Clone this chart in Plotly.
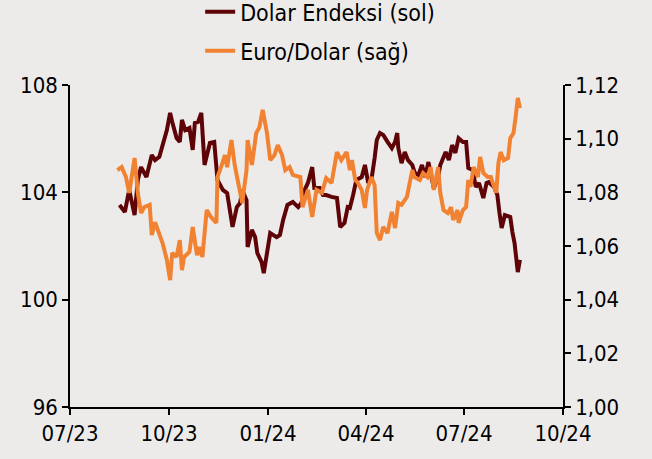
import plotly.graph_objects as go

# Dolar Endeksi (left axis)
dxy_dates = ["2023-08-16","2023-08-21","2023-08-25","2023-08-30","2023-09-02","2023-09-05","2023-09-10","2023-09-15",
    "2023-09-18","2023-09-22","2023-09-29","2023-10-02","2023-10-04","2023-10-08","2023-10-11","2023-10-13",
    "2023-10-16","2023-10-20","2023-10-23","2023-10-25","2023-10-28","2023-10-31","2023-11-03","2023-11-08",
    "2023-11-12","2023-11-15","2023-11-20","2023-11-24","2023-11-29","2023-12-03","2023-12-06","2023-12-08",
    "2023-12-12","2023-12-13","2023-12-17","2023-12-20","2023-12-22","2023-12-26","2023-12-28","2024-01-01",
    "2024-01-03","2024-01-09","2024-01-12","2024-01-15","2024-01-19","2024-01-24","2024-01-29","2024-02-01",
    "2024-02-04","2024-02-07","2024-02-11","2024-02-13","2024-02-18","2024-02-21","2024-02-24","2024-02-29",
    "2024-03-05","2024-03-08","2024-03-12","2024-03-15","2024-03-17","2024-03-20","2024-03-23","2024-03-28",
    "2024-03-31","2024-04-03","2024-04-06","2024-04-09","2024-04-11","2024-04-14","2024-04-17","2024-04-21",
    "2024-04-25","2024-04-28","2024-04-30","2024-05-01","2024-05-04","2024-05-07","2024-05-10","2024-05-14",
    "2024-05-16","2024-05-19","2024-05-23","2024-05-26","2024-05-29","2024-05-31","2024-06-03","2024-06-07",
    "2024-06-09","2024-06-14","2024-06-17","2024-06-20","2024-06-23","2024-06-26","2024-06-30","2024-07-03",
    "2024-07-05","2024-07-09","2024-07-12","2024-07-15","2024-07-19","2024-07-22","2024-07-24","2024-07-29",
    "2024-08-01","2024-08-03","2024-08-05","2024-08-08","2024-08-13","2024-08-15","2024-08-17","2024-08-20",
    "2024-08-22"]
dxy_values = [103.53,103.27,104.09,103.15,104.46,104.94,104.57,105.39,
    105.20,105.32,106.32,106.96,106.62,106.02,105.88,106.70,
    106.32,106.40,105.58,106.58,106.62,106.96,105.02,105.84,
    105.88,104.46,104.09,103.97,102.71,103.45,103.60,104.09,
    103.71,101.96,102.60,102.33,101.74,101.40,100.99,101.85,
    102.48,102.33,102.41,102.97,103.53,103.64,103.45,103.60,
    104.09,104.35,104.94,104.16,104.16,103.90,103.90,103.83,
    103.79,102.71,102.86,103.45,103.42,103.90,104.46,104.57,
    105.02,104.35,104.46,105.28,105.95,106.21,106.14,105.88,
    105.65,105.88,106.21,105.65,105.09,105.50,105.20,105.02,
    104.76,104.57,105.02,104.57,105.13,104.72,104.16,104.57,
    105.02,105.50,105.20,105.76,105.47,106.02,105.88,105.88,
    104.91,104.83,104.20,104.35,103.79,104.35,104.38,104.20,
    103.90,103.23,102.67,103.15,103.08,102.52,102.11,101.03,
    101.48]

# Euro/Dolar (right axis)
eur_dates = ["2023-08-14","2023-08-18","2023-08-22","2023-08-25","2023-08-30","2023-09-02","2023-09-05","2023-09-08",
    "2023-09-13","2023-09-15","2023-09-18","2023-09-20","2023-09-25","2023-09-29","2023-10-02","2023-10-04",
    "2023-10-08","2023-10-11","2023-10-13","2023-10-15","2023-10-20","2023-10-23","2023-10-27","2023-10-29",
    "2023-11-01","2023-11-05","2023-11-09","2023-11-14","2023-11-15","2023-11-19","2023-11-22","2023-11-24",
    "2023-11-28","2023-12-01","2023-12-06","2023-12-08","2023-12-12","2023-12-13","2023-12-17","2023-12-21",
    "2023-12-24","2023-12-27","2023-12-31","2024-01-03","2024-01-07","2024-01-10","2024-01-14","2024-01-17",
    "2024-01-21","2024-01-24","2024-01-31","2024-02-02","2024-02-07","2024-02-11","2024-02-15","2024-02-20",
    "2024-02-24","2024-02-29","2024-03-05","2024-03-09","2024-03-14","2024-03-17","2024-03-19","2024-03-22",
    "2024-03-24","2024-03-28","2024-03-31","2024-04-02","2024-04-06","2024-04-09","2024-04-11","2024-04-14",
    "2024-04-17","2024-04-21","2024-04-25","2024-04-28","2024-05-01","2024-05-04","2024-05-09","2024-05-14",
    "2024-05-16","2024-05-21","2024-05-24","2024-05-28","2024-05-31","2024-06-03","2024-06-07","2024-06-09",
    "2024-06-12","2024-06-16","2024-06-19","2024-06-21","2024-06-25","2024-06-26","2024-06-30","2024-07-03",
    "2024-07-05","2024-07-07","2024-07-10","2024-07-14","2024-07-16","2024-07-19","2024-07-23","2024-07-26",
    "2024-07-29","2024-07-31","2024-08-02","2024-08-04","2024-08-07","2024-08-11","2024-08-13","2024-08-16",
    "2024-08-18","2024-08-20","2024-08-22"]
eur_values = [1.0883,1.0894,1.0857,1.0798,1.0928,1.0798,1.0723,1.0745,
    1.0753,1.0641,1.0689,1.0667,1.0611,1.0548,1.0473,1.0574,
    1.0559,1.0622,1.0510,1.0559,1.0578,1.0671,1.0566,1.0596,
    1.0559,1.0734,1.0708,1.0686,1.0857,1.0902,1.0939,1.0894,
    1.0995,1.0902,1.0809,1.0760,1.0883,1.0995,1.0902,1.1021,
    1.1043,1.1107,1.1021,1.0920,1.0939,1.0976,1.0939,1.0883,
    1.0894,1.0865,1.0857,1.0745,1.0809,1.0708,1.0809,1.0798,
    1.0853,1.0835,1.0950,1.0920,1.0950,1.0883,1.0920,1.0846,
    1.0838,1.0809,1.0742,1.0809,1.0857,1.0827,1.0648,1.0622,
    1.0671,1.0648,1.0727,1.0667,1.0760,1.0753,1.0783,1.0883,
    1.0857,1.0846,1.0872,1.0857,1.0894,1.0809,1.0894,1.0798,
    1.0734,1.0723,1.0745,1.0697,1.0734,1.0686,1.0734,1.0745,
    1.0846,1.0820,1.0894,1.0857,1.0932,1.0872,1.0857,1.0857,
    1.0820,1.0798,1.0909,1.0950,1.0920,1.0928,1.1002,1.1021,
    1.1081,1.1152,1.1114]

x_tickvals = ["2023-07-01","2023-10-01","2024-01-01","2024-04-01","2024-07-01","2024-10-01"]
x_ticktext = ["07/23","10/23","01/24","04/24","07/24","10/24"]
left_ticks = [96, 100, 104, 108]
right_ticks = [1.00, 1.02, 1.04, 1.06, 1.08, 1.10, 1.12]

DARK = "#5e0306"
ORANGE = "#f08232"
BG = "#edebea"
FONT = "DejaVu Sans Condensed, DejaVu Sans"

fig = go.Figure()
fig.add_trace(go.Scatter(x=dxy_dates, y=dxy_values, name="Dolar Endeksi (sol)", mode="lines",
                         line=dict(color=DARK, width=4), legendgroup="a", yaxis="y"))
fig.add_trace(go.Scatter(x=eur_dates, y=eur_values, name="Euro/Dolar (sağ)", mode="lines",
                         line=dict(color=ORANGE, width=4), legendgroup="b", yaxis="y2"))

axis_common = dict(showline=True, linecolor="black", linewidth=1.5, ticks="outside",
                   ticklen=6, tickwidth=1.5, tickcolor="black", showgrid=False, zeroline=False,
                   automargin=False,
                   tickfont=dict(family=FONT, size=22, color="black"))

fig.update_layout(
    width=652, height=459,
    margin=dict(l=70, r=89, t=85, b=52, autoexpand=False),
    paper_bgcolor=BG, plot_bgcolor=BG,
    separators=",.",
    font=dict(family=FONT, size=22, color="black"),
    xaxis=dict(type="date", range=["2023-07-01", "2024-10-01"], tickmode="array",
               tickvals=x_tickvals, ticktext=x_ticktext, **axis_common),
    yaxis=dict(range=[96, 108], tickmode="array", tickvals=left_ticks, **axis_common),
    yaxis2=dict(range=[1.00, 1.12], tickmode="array", tickvals=right_ticks, tickformat=".2f",
                overlaying="y", side="right", **axis_common),
    legend=dict(x=0.264, y=1.294, xanchor="left", yanchor="top",
                bgcolor="rgba(0,0,0,0)",
                font=dict(family=FONT, size=23, color="black"), tracegroupgap=6,
                itemwidth=30),
    showlegend=True,
)

fig.write_html("out.html", config={"displayModeBar": False},
               post_script="document.body.style.margin='0';document.body.style.background='%s';" % BG)
